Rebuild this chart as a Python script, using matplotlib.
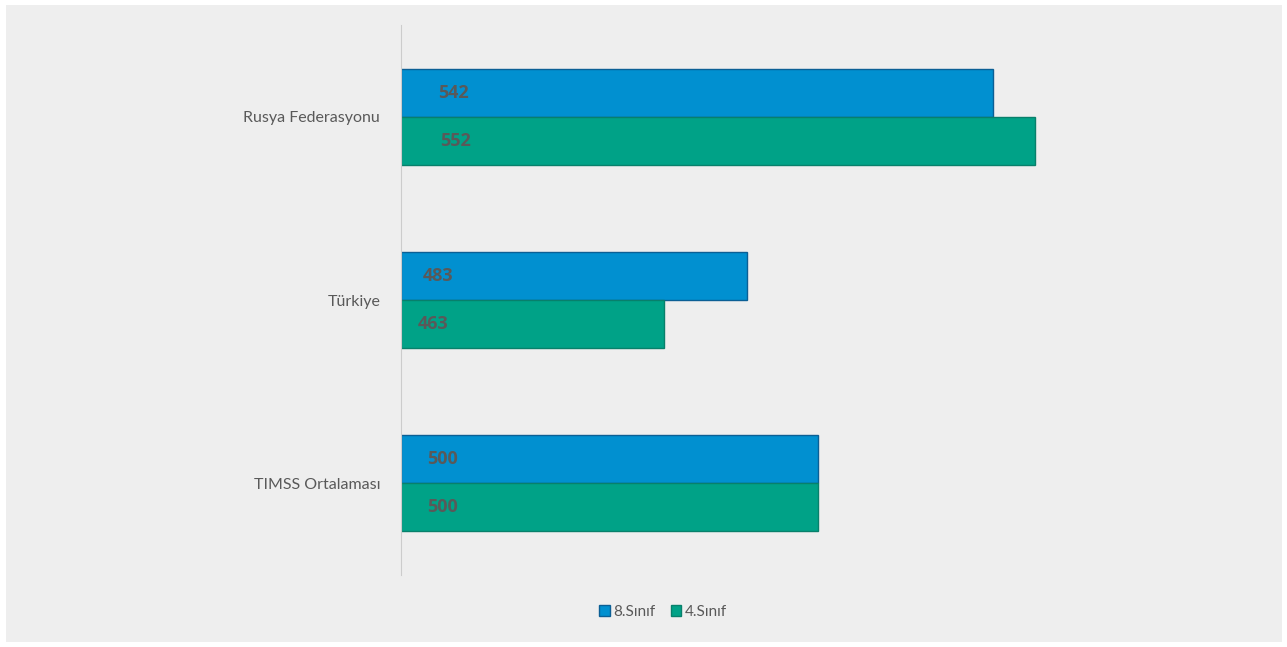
import matplotlib.pyplot as plt
import numpy as np

categories = ["Rusya Federasyonu", "Türkiye", "TIMSS Ortalaması"]
sinif8 = [542, 483, 500]
sinif4 = [552, 463, 500]

plt.rcParams['font.family'] = ['Lato', 'DejaVu Sans']

fig = plt.figure(figsize=(12.87, 6.47), dpi=100)
fig.patch.set_facecolor("white")
# gray panel behind the chart
panel = plt.Rectangle((6 / 1287, 5 / 647), 1276 / 1287, 637 / 647,
                      transform=fig.transFigure, facecolor="#eeeeee",
                      edgecolor="none", zorder=-10)
fig.add_artist(panel)

ax = fig.add_axes([401 / 1287, 1 - 575 / 647, 834 / 1287, 550 / 647])
ax.set_facecolor("#eeeeee")
ax.set_zorder(1)

y = np.arange(len(categories))
h = 0.262
xmin = 400

b8 = ax.barh(y - h / 2, np.array(sinif8) - xmin, left=xmin, height=h,
             color="#0190d0", edgecolor="#0b5f95", linewidth=1.0, label="8.Sınıf")
b4 = ax.barh(y + h / 2, np.array(sinif4) - xmin, left=xmin, height=h,
             color="#00a287", edgecolor="#08806b", linewidth=1.0, label="4.Sınıf")

for bars, vals in ((b8, sinif8), (b4, sinif4)):
    for bar, v in zip(bars, vals):
        ax.text(xmin + (v - xmin) * 0.062, bar.get_y() + bar.get_height() / 2, str(v),
                ha="left", va="center", fontsize=13, fontweight="bold", color="#595959",
                family=["Open Sans", "DejaVu Sans"])

ax.set_xlim(xmin, 600)
ax.set_ylim(2.5, -0.5)
ax.set_yticks(y)
ax.set_yticklabels(categories, fontsize=11.5, color="#595959")
ax.tick_params(axis="y", length=0, pad=15)
ax.set_xticks([])
for s in ["top", "right", "bottom"]:
    ax.spines[s].set_visible(False)
ax.spines["left"].set_color("#cccccc")

fig.legend(handles=[b8, b4], loc="center", bbox_to_anchor=(663 / 1287, 1 - 612 / 647),
           ncol=2, frameon=False, fontsize=11, labelcolor="#595959",
           handlelength=0.7, handleheight=0.7, handletextpad=0.2, columnspacing=1.0)

fig.savefig("out.png", dpi=100, facecolor=fig.get_facecolor())
